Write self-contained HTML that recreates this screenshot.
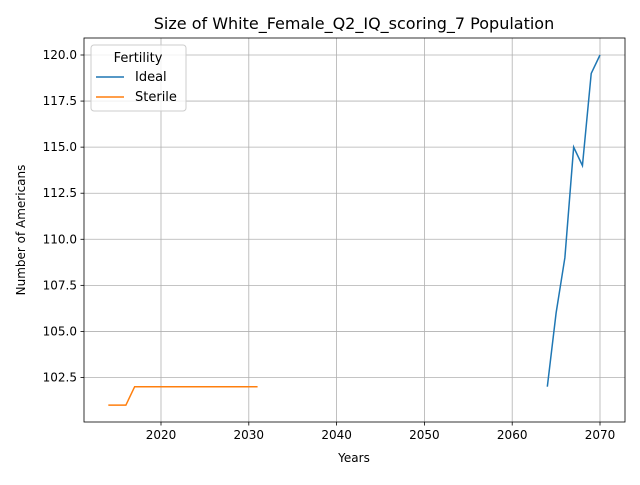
<!DOCTYPE html>
<html><head><meta charset="utf-8"><style>
body{margin:0;background:#fff;font-family:"Liberation Sans","DejaVu Sans",sans-serif}
svg text{font-family:"DejaVu Sans","Liberation Sans",sans-serif}
</style></head><body>
<svg id="chart" width="640" height="480" xmlns="http://www.w3.org/2000/svg">
<rect width="640" height="480" fill="#fff"/>
<g id="grid"></g>
<g id="series"></g>
<rect x="84" y="38" width="541" height="384" fill="none" stroke="#000" stroke-width="0.8"/>
<g id="ticks" font-size="12" fill="#000"></g>
<text x="354" y="29" text-anchor="middle" font-size="16">Size of White_Female_Q2_IQ_scoring_7 Population</text>
<text x="354" y="462" text-anchor="middle" font-size="12">Years</text>
<text transform="translate(25,230) rotate(-90)" text-anchor="middle" font-size="12">Number of Americans</text>
<g>
<rect x="91" y="45" width="95" height="66" rx="3" fill="#fff" fill-opacity="0.8" stroke="#ccc"/>
<text x="138" y="62" text-anchor="middle" font-size="13">Fertility</text>
<line x1="96" y1="77" x2="124" y2="77" stroke="#1f77b4" stroke-width="1.5"/>
<text x="135" y="81" font-size="13">Ideal</text>
<line x1="96" y1="97" x2="124" y2="97" stroke="#ff7f0e" stroke-width="1.5"/>
<text x="135" y="101" font-size="13">Sterile</text>
</g>
</svg>
<script>
const xTicks=[2020,2030,2040,2050,2060,2070];
const yTicks=[102.5,105,107.5,110,112.5,115,117.5,120];
const idealYears=[2064,2065,2066,2067,2068,2069,2070];
const idealValues=[102,106,109,115,114,119,120];
const sterileYears=[2014,2015,2016,2017,2018,2019,2020,2021,2022,2023,2024,2025,2026,2027,2028,2029,2030,2031];
const sterileValues=[101,101,101,102,102,102,102,102,102,102,102,102,102,102,102,102,102,102];
const NS="http://www.w3.org/2000/svg";
const xs=v=>161+(v-2020)*(600-161)/50;
const ys=v=>55+(120-v)*(377.5-55)/17.5;
const grid=document.getElementById('grid'),ticks=document.getElementById('ticks'),ser=document.getElementById('series');
function mk(t,a,p){const e=document.createElementNS(NS,t);for(const k in a)e.setAttribute(k,a[k]);p.appendChild(e);return e;}
xTicks.forEach(v=>{const x=xs(v);
const g=mk('line',{x1:x,x2:x,y1:38,y2:422,stroke:'#b0b0b0','stroke-width':0.8},grid);


mk('line',{x1:x,x2:x,y1:422,y2:425.5,stroke:'#000','stroke-width':0.8},ticks);
const t=mk('text',{x:x,y:439,'text-anchor':'middle'},ticks);t.textContent=v;

});
yTicks.forEach(v=>{const y=ys(v);
const g=mk('line',{x1:84,x2:625,y1:y,y2:y,stroke:'#b0b0b0','stroke-width':0.8},grid);


mk('line',{x1:80.5,x2:84,y1:y,y2:y,stroke:'#000','stroke-width':0.8},ticks);
const t=mk('text',{x:77,y:y+4,'text-anchor':'end'},ticks);t.textContent=v.toFixed(1);

});
function line(xsA,vs,c,n){const p=mk('polyline',{points:xsA.map((x,i)=>xs(x)+','+ys(vs[i])).join(' '),fill:'none',stroke:c,'stroke-width':1.5},ser);

}
line(idealYears,idealValues,'#1f77b4','ideal-line');
line(sterileYears,sterileValues,'#ff7f0e','sterile-line');
</script>
</body></html>
